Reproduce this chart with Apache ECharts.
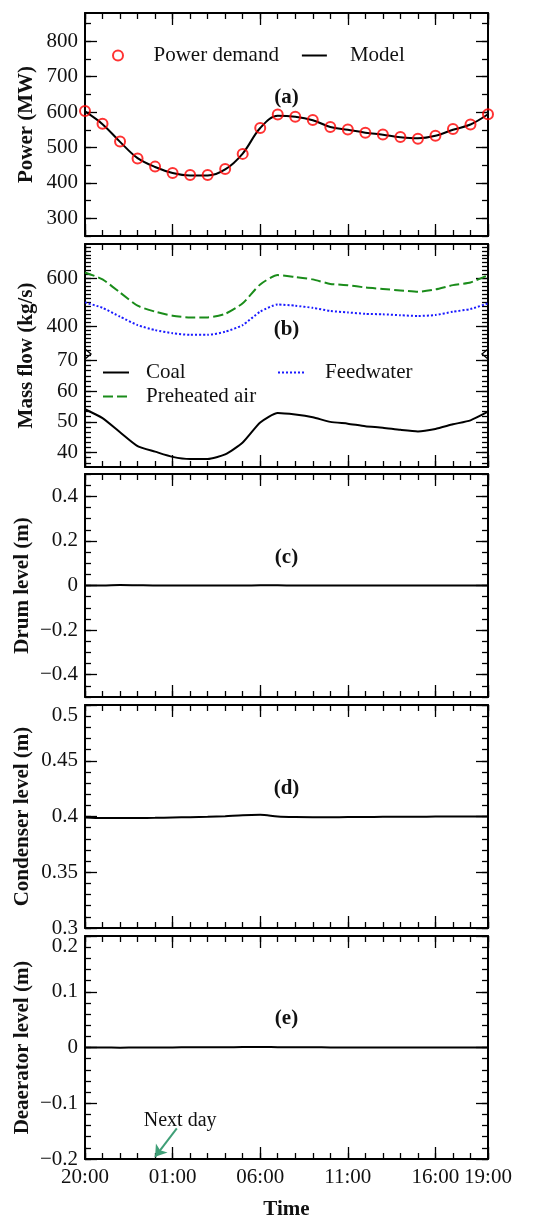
<!DOCTYPE html>
<html>
<head>
<meta charset="utf-8">
<script src="https://cdn.jsdelivr.net/npm/echarts@6/dist/echarts.min.js"></script>
<style>
  html, body { margin: 0; padding: 0; background: #fff; }
  #main { width: 549px; height: 1221px; }
</style>
</head>
<body>
<div id="main"></div>
<script>
// hours counted from 20:00
var hours = [0, 1, 2, 3, 4, 5, 6, 7, 8, 9, 10, 11, 12, 13, 14, 15, 16, 17, 18, 19, 20, 21, 22, 23];
var timeTicks = [0, 5, 10, 15, 20, 23];
var timeLabels = ['20:00', '01:00', '06:00', '11:00', '16:00', '19:00'];

// (a) power
var powerDemand = [603, 567, 517, 469, 446, 428, 422, 422, 439, 482, 555, 593, 587, 578, 558, 551, 542, 537, 530, 525, 533, 552, 565, 594];
var powerModel = [602, 566, 516, 470, 445, 428, 421, 421, 438, 483, 555, 590, 587, 577, 558, 550, 542, 536, 529, 526, 533, 550, 565, 594];
// (b) mass flows
var airFlow = [626, 597, 542, 487, 462, 445, 438, 438, 453, 497, 576, 615, 607, 597, 578, 573, 563, 557, 551, 545, 555, 573, 584, 615];
var feedwaterFlow = [501, 478, 441, 406, 385, 372, 365, 365, 378, 406, 462, 492, 487, 478, 465, 459, 453, 451, 447, 444, 448, 462, 473, 497];
var coalFlow = [54.1, 51.2, 46.6, 42.1, 40.3, 38.6, 37.9, 37.9, 39.4, 43.3, 49.8, 52.9, 52.4, 51.5, 50.0, 49.4, 48.6, 48.1, 47.4, 46.9, 47.7, 49.2, 50.5, 53.3];
// (c)-(e) levels
var drumLevel = [0, 0, 0.002, 0.001, 0, 0, 0, 0, 0, 0, 0.001, 0.001, 0, 0, 0, 0, 0, 0, 0, 0, 0, 0, 0, 0];
var condenserLevel = [0.3991, 0.3986, 0.3986, 0.3987, 0.3988, 0.3991, 0.3994, 0.3997, 0.4003, 0.4012, 0.4015, 0.4, 0.3995, 0.3994, 0.3994, 0.3995, 0.3996, 0.3997, 0.3998, 0.3998, 0.3999, 0.4, 0.4, 0.4];
var deaeratorLevel = [0, 0, -0.0003, 0, 0, 0.0002, 0.0003, 0.0004, 0.0005, 0.0008, 0.0009, 0.0005, 0.0003, 0.0003, 0.0002, 0.0002, 0.0002, 0.0002, 0.0002, 0.0002, 0.0002, 0.0002, 0.0002, 0.0002];

var powerTicks = [300, 400, 500, 600, 700, 800];
var flowTicksHigh = [400, 600];
var flowTicksLow = [40, 50, 60, 70];
var drumTicks = [-0.4, -0.2, 0, 0.2, 0.4];
var condenserTicks = [0.3, 0.35, 0.4, 0.45, 0.5];
var deaeratorTicks = [-0.2, -0.1, 0, 0.1, 0.2];

var nextDayArrow = [[5.24, -0.145], [4.0, -0.196]];
var nextDayText = [5.43, -0.131];

var FONT = 'Liberation Serif';
var INK = '#111';
var FS = 21;
var LEFT = 85, WIDTH = 403;

function range(a, b, step) {
  var out = [];
  var n = Math.floor((b - a) / step + 1e-6);
  for (var i = 0; i <= n; i++) out.push(+(a + i * step).toFixed(6));
  return out;
}
function fmtNum(v) {
  return String(v).replace('-', '\u2212');
}
function fmtTime(v) {
  var i = timeTicks.indexOf(v);
  return i < 0 ? '' : timeLabels[i];
}
function pairs(arr) {
  return hours.map(function (h, i) { return [h, arr[i]]; });
}

var grids = [], xAxes = [], yAxes = [];
var tickStyle = { color: '#000', width: 1.3 };
var frameStyle = { color: '#000', width: 2 };

function addGrid(top, height) {
  grids.push({ left: LEFT, top: top, width: WIDTH, height: height, outerBoundsMode: 'none' });
  return grids.length - 1;
}

function addX(g, pos, opts) {
  opts = opts || {};
  xAxes.push({
    type: 'value', gridIndex: g, position: pos, min: 0, max: 23,
    axisLine: { show: true, onZero: false, lineStyle: frameStyle },
    axisTick: { show: true, inside: true, length: 6, customValues: hours, lineStyle: tickStyle },
    axisLabel: { show: false }, splitLine: { show: false }
  });
  xAxes.push({
    type: 'value', gridIndex: g, position: pos, min: 0, max: 23,
    axisLine: { show: false, onZero: false },
    axisTick: { show: true, inside: true, length: 12, customValues: timeTicks, lineStyle: tickStyle },
    axisLabel: {
      show: !!opts.labels, customValues: timeTicks, formatter: fmtTime,
      fontSize: FS, fontFamily: FONT, color: INK, margin: 8
    },
    name: opts.name || '', nameLocation: 'middle', nameGap: 40, nameMoveOverlap: false,
    nameTextStyle: { fontSize: FS, fontWeight: 'bold', fontFamily: FONT, color: INK },
    splitLine: { show: false }
  });
  return xAxes.length - 1;
}

function addY(g, min, max, minor, major, opts) {
  opts = opts || {};
  var topLabel = opts.shiftTop;
  var idx;
  ['left', 'right'].forEach(function (pos) {
    yAxes.push({
      type: 'value', gridIndex: g, position: pos, min: min, max: max,
      axisLine: { show: true, onZero: false, lineStyle: frameStyle },
      axisTick: { show: true, inside: true, length: 6, customValues: minor, lineStyle: tickStyle },
      axisLabel: { show: false }, splitLine: { show: false }
    });
    yAxes.push({
      type: 'value', gridIndex: g, position: pos, min: min, max: max,
      axisLine: { show: false, onZero: false },
      axisTick: { show: true, inside: true, length: 12, customValues: major, lineStyle: tickStyle },
      axisLabel: {
        show: pos === 'left', customValues: opts.labels || major,
        formatter: function (v) {
          var s = fmtNum(v);
          return v === topLabel ? '{top|' + s + '}' : s;
        },
        rich: { top: { padding: [21, 0, 0, 0], fontSize: FS, fontFamily: FONT, color: INK } },
        fontSize: FS, fontFamily: FONT, color: INK, margin: 7
      },
      name: pos === 'left' ? (opts.name || '') : '',
      nameLocation: 'middle', nameGap: opts.nameGap || 50, nameMoveOverlap: false,
      nameTextStyle: { fontSize: FS, fontWeight: 'bold', fontFamily: FONT, color: INK },
      splitLine: { show: false }
    });
    if (pos === 'left') idx = yAxes.length - 1;
  });
  return idx;
}

// panel layout
var H = 223;
var tops = [13, 244, 474, 705, 936];
var breakY = 354;

var series = [];

// (a)
var gA = addGrid(tops[0], H);
addX(gA, 'top');
var xA = addX(gA, 'bottom');
var yA = addY(gA, 250, 880, range(250, 880, 50), powerTicks, { name: 'Power (MW)', nameGap: 48 });
series.push({
  name: 'Model', type: 'line', xAxisIndex: xA, yAxisIndex: yA, data: pairs(powerModel),
  symbol: 'none', smooth: 0.35, lineStyle: { color: '#000', width: 2 }, itemStyle: { color: '#000' }, z: 2
});
series.push({
  name: 'Power demand', type: 'scatter', xAxisIndex: xA, yAxisIndex: yA, data: pairs(powerDemand),
  symbol: 'circle', symbolSize: 10,
  itemStyle: { color: 'rgba(0,0,0,0)', borderColor: '#ff0000', borderWidth: 2 }, z: 3
});

// (b) upper part
var gB1 = addGrid(tops[1], breakY - tops[1]);
addX(gB1, 'top');
var xB1 = xAxes.length - 1;
var yB1 = addY(gB1, 285, 745, range(300, 745, 100 / 6), flowTicksHigh);
series.push({
  name: 'Preheated air', type: 'line', xAxisIndex: xB1, yAxisIndex: yB1, data: pairs(airFlow),
  symbol: 'none', smooth: 0.2, lineStyle: { color: '#1a8c1a', width: 2, type: [10, 4] }, itemStyle: { color: '#1a8c1a' }
});
series.push({
  name: 'Feedwater', type: 'line', xAxisIndex: xB1, yAxisIndex: yB1, data: pairs(feedwaterFlow),
  symbol: 'none', smooth: 0.2, lineStyle: { color: '#1a1aff', width: 2, type: [2, 2] }, itemStyle: { color: '#1a1aff' }
});
// (b) lower part
var gB2 = addGrid(breakY, tops[1] + H - breakY);
var xB2 = addX(gB2, 'bottom');
var yB2 = addY(gB2, 35.3, 72.1, range(36.66667, 72, 10 / 6), flowTicksLow);
series.push({
  name: 'Coal', type: 'line', xAxisIndex: xB2, yAxisIndex: yB2, data: pairs(coalFlow),
  symbol: 'none', smooth: 0.2, lineStyle: { color: '#000', width: 2 }, itemStyle: { color: '#000' }
});

// (c)
var gC = addGrid(tops[2], H);
addX(gC, 'top');
var xC = addX(gC, 'bottom');
var yC = addY(gC, -0.5, 0.5, range(-0.5, 0.5, 0.05), drumTicks, { name: 'Drum level (m)', nameGap: 52 });
series.push({
  name: 'drum', type: 'line', xAxisIndex: xC, yAxisIndex: yC, data: pairs(drumLevel),
  symbol: 'none', smooth: 0.3, lineStyle: { color: '#000', width: 2 }
});

// (d)
var gD = addGrid(tops[3], H);
addX(gD, 'top');
var xD = addX(gD, 'bottom');
var yD = addY(gD, 0.3, 0.5, range(0.3, 0.5, 0.01), condenserTicks, { name: 'Condenser level (m)', nameGap: 52, shiftTop: 0.5 });
series.push({
  name: 'condenser', type: 'line', xAxisIndex: xD, yAxisIndex: yD, data: pairs(condenserLevel),
  symbol: 'none', smooth: 0.3, lineStyle: { color: '#000', width: 2 }
});

// (e)
var gE = addGrid(tops[4], H);
addX(gE, 'top');
var xE = addX(gE, 'bottom', { labels: true, name: 'Time' });
var yE = addY(gE, -0.2, 0.2, range(-0.2, 0.2, 0.02), deaeratorTicks, { name: 'Deaerator level (m)', nameGap: 52, shiftTop: 0.2 });
series.push({
  name: 'deaerator', type: 'line', xAxisIndex: xE, yAxisIndex: yE, data: pairs(deaeratorLevel),
  symbol: 'none', smooth: 0.3, lineStyle: { color: '#000', width: 2 },
  markLine: {
    silent: true, symbol: ['none', 'arrow'], symbolSize: 11,
    lineStyle: { color: '#3f9f77', width: 2, type: 'solid' },
    label: { show: false },
    data: [[{ coord: nextDayArrow[0] }, { coord: nextDayArrow[1] }]]
  },
  markPoint: {
    silent: true, symbol: 'circle', symbolSize: 0,
    label: { show: true, position: 'inside', formatter: 'Next day', fontSize: 20, fontFamily: FONT, color: INK },
    data: [{ coord: nextDayText }]
  }
});

var legendText = { fontSize: FS, fontFamily: FONT, color: INK };
var hideDot = { opacity: 0 };
var cx = LEFT + WIDTH / 2;
var panelLabels = ['(a)', '(b)', '(c)', '(d)', '(e)'];
var panelLabelY = [98, 330, 558, 789, 1019];

var graphics = panelLabels.map(function (t, i) {
  return {
    type: 'text', x: cx, y: panelLabelY[i], silent: true,
    style: { text: t, fontSize: FS, fontWeight: 'bold', fontFamily: FONT, fill: INK, align: 'center', verticalAlign: 'middle' }
  };
});
graphics.push({
  type: 'text', x: 27, y: tops[1] + H / 2, rotation: Math.PI / 2, silent: true,
  style: { text: 'Mass flow (kg/s)', fontSize: FS, fontWeight: 'bold', fontFamily: FONT, fill: INK, align: 'center', verticalAlign: 'middle' }
});
// axis break marks
graphics.push({ type: 'polyline', silent: true, shape: { points: [[LEFT, breakY - 5], [LEFT + 6, breakY], [LEFT, breakY + 5]] }, style: { stroke: '#000', lineWidth: 1.3, fill: null } });
graphics.push({ type: 'polyline', silent: true, shape: { points: [[LEFT + WIDTH, breakY - 5], [LEFT + WIDTH - 6, breakY], [LEFT + WIDTH, breakY + 5]] }, style: { stroke: '#000', lineWidth: 1.3, fill: null } });

var myChart = echarts.init(document.getElementById('main'));
myChart.setOption({
  animation: false,
  backgroundColor: '#fff',
  textStyle: { fontFamily: FONT },
  grid: grids,
  xAxis: xAxes,
  yAxis: yAxes,
  legend: [
    {
      data: ['Power demand', { name: 'Model', itemStyle: hideDot }], left: 107, top: 40, itemWidth: 25, itemHeight: 10, itemGap: 22,
      textStyle: Object.assign({ padding: [0, 0, 0, 18] }, legendText), selectedMode: false
    },
    {
      data: [{ name: 'Coal', itemStyle: hideDot }, { name: 'Preheated air', itemStyle: hideDot }], orient: 'vertical', left: 97, top: 357, itemWidth: 26, itemHeight: 10, itemGap: 3,
      textStyle: Object.assign({ padding: [0, 0, 0, 12] }, legendText), selectedMode: false
    },
    {
      data: [{ name: 'Feedwater', itemStyle: hideDot }], left: 272, top: 357, itemWidth: 26, itemHeight: 10,
      textStyle: Object.assign({ padding: [0, 0, 0, 16] }, legendText), selectedMode: false
    }
  ],
  graphic: graphics,
  series: series
});
</script>
</body>
</html>
